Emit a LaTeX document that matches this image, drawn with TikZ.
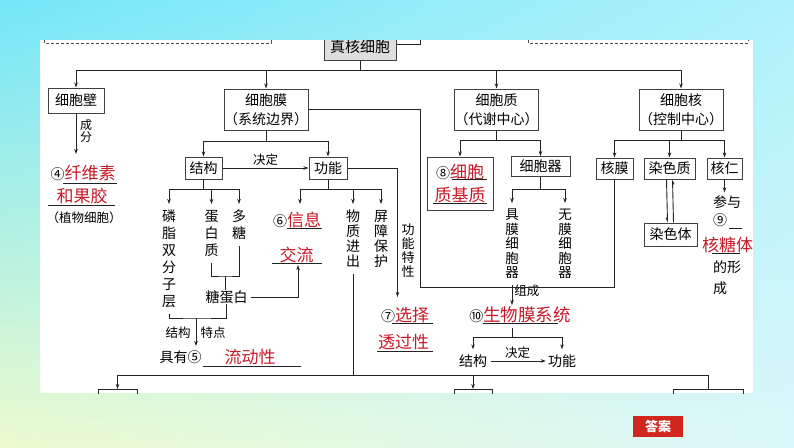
\documentclass[tikz,border=0pt]{standalone}
\usepackage{fontspec}
\setmainfont{Noto Sans CJK SC}
\usetikzlibrary{arrows.meta,calc,shadings}
\definecolor{ansred}{RGB}{200,25,40}
\definecolor{lncol}{RGB}{35,35,35}
\definecolor{bgA}{RGB}{115,230,248}
\definecolor{bgB}{RGB}{175,242,250}
\definecolor{bgC}{RGB}{236,250,205}
\definecolor{bgD}{RGB}{218,247,250}
\definecolor{btnred}{RGB}{208,38,30}
\newcommand{\ans}[1]{{\fontsize{17}{17}\selectfont\color{ansred}#1}}
\begin{document}
\begin{tikzpicture}[x=1pt,y=-1pt,
  ln/.style={draw=lncol,line width=0.9pt},
  arr/.style={ln,-{Stealth[length=5pt,width=3.5pt]}},
  harp/.style={ln,-{Straight Barb[harpoon,swap,length=3pt,width=3pt]}},
  box/.style={draw=black!75,line width=1pt,fill=white,inner sep=0pt,align=center,font=\fontsize{14}{19}\selectfont},
  txt/.style={inner sep=0pt,font=\fontsize{14}{17}\selectfont},
  sm/.style={inner sep=0pt,font=\fontsize{12.5}{13}\selectfont},
  vt/.style={inner xsep=0pt,inner ysep=6pt,align=center,anchor=north,font=\fontsize{14}{17}\selectfont},
  ul/.style={draw=lncol,line width=0.8pt},
  dsh/.style={draw=black!70,line width=0.8pt,dash pattern=on 3pt off 2pt},
]
\useasboundingbox (0,0) rectangle (794,447);
\shade[upper left=bgA,upper right=bgB,lower left=bgC,lower right=bgD] (0,0) rectangle (794,447);
\fill[white] (40,40) rectangle (753,393);

\begin{scope}
  \clip (40,40) rectangle (753,393);
  \draw[dsh] (44,10) rectangle (271,43);
  \draw[dsh] (528,10) rectangle (748,43);
  \node[box,fill=black!13,minimum width=72,minimum height=26,font=\fontsize{15}{15}\selectfont] (zh) at (360,47) {真核细胞};
  \coordinate (zr) at (420,36);
  \draw[ln] ($(zh.east)+(0,-3)$) -| (zr);
  \node[draw=lncol,line width=0.9pt,minimum width=39,minimum height=20,anchor=north,inner sep=0pt] (bl) at (117.5,389) {};
  \node[draw=lncol,line width=0.9pt,minimum width=38,minimum height=20,anchor=north,inner sep=0pt] (bm) at (473,389) {};
  \node[draw=lncol,line width=0.9pt,minimum width=70,minimum height=20,anchor=north,inner sep=0pt] (br) at (708,389) {};
\end{scope}

% level 1
\coordinate (bus1) at (360,70);
\draw[ln] (zh.south) -- (bus1);
\node[box,minimum width=56,minimum height=25] (bi) at (76,100.5) {细胞壁};
\node[box,minimum width=80,minimum height=41] (mo) at (266,109.5) {细胞膜\\（系统边界）};
\node[box,minimum width=81,minimum height=41] (zhi) at (496.5,109.5) {细胞质\\（代谢中心）};
\node[box,minimum width=81,minimum height=41] (he) at (681,109.5) {细胞核\\（控制中心）};
\foreach \n in {bi,mo,zhi,he} \draw[arr] (bus1) -| (\n.north);

% cell wall
\coordinate (cwEnd) at (76,154);
\draw[arr] (bi.south) -- (cwEnd);
\node[inner sep=0pt,align=center,font=\fontsize{12}{11.5}\selectfont] (cf) at (86,131) {成\\分};
\node[txt] (n4a) at (83,173) {④\ans{纤维素}};
\draw[ul] (63,183) -- (117,183);
\node[txt] (n4b) at (82,196) {\ans{和果胶}};
\draw[ul] (48,205) -- (115,205);
\node[inner sep=0pt,font=\fontsize{12.5}{13}\selectfont] (zw) at (84,218) {（植物细胞）};

% membrane
\coordinate (bus2) at (266,141);
\draw[ln] (mo.south) -- (bus2);
\node[box,minimum width=37,minimum height=22] (jg) at (203.5,168) {结构};
\node[box,minimum width=38,minimum height=22] (gn) at (328,168) {功能};
\draw[arr] (bus2) -| (jg.north);
\draw[arr] (bus2) -| (gn.north);
\draw[arr] (jg.east) -- node[above,sm,inner sep=2pt] (jd1) {决定} (gn.west);

\coordinate (bus3) at (203.5,189);
\draw[ln] (jg.south) -- (bus3);
\node[vt] (lin) at (169,204) {磷\\脂\\双\\分\\子\\层};
\node[vt] (dan) at (211.5,204) {蛋\\白\\质};
\node[vt] (duo) at (239,204) {多\\糖};
\foreach \n in {lin,dan,duo} \draw[arr] (bus3) -| (\n.north);
\node[txt] (tdb) at (226.5,297) {糖蛋白};
\coordinate (cj1) at (225.5,276);
\draw[ln] (dan.south) |- (cj1) -| (duo.south);
\draw[ln] (cj1) -- (cj1 |- tdb.north);
\coordinate (xlu) at (298,265);
\draw[arr] ([xshift=3pt]tdb.east) -| (xlu);
\coordinate (cj2) at (196,318);
\draw[ln] (lin.south) |- (cj2) -| (tdb.south);
\coordinate (jyT) at (196,346);
\draw[arr] (cj2) -- (jyT);
\node[sm] (ljg) at (178,333) {结构};
\node[sm] (ltd) at (213,333) {特点};
\node[txt] (jy) at (180.5,357) {具有⑤};
\draw[ul] (203,366) -- (301,366);
\node[txt] (ldx) at (250,357) {\ans{流动性}};

\coordinate (bus4) at (328,189);
\draw[ln] (gn.south) -- (bus4);
\coordinate (xiT) at (300,204);
\draw[arr] (bus4) -| (xiT);
\node[txt] (xi) at (297,220) {⑥\ans{信息}};
\draw[ul] (287,228) -- (322,228);
\node[txt] (xl) at (296.5,255) {\ans{交流}};
\draw[ul] (272,263) -- (322,263);
\node[vt,font=\fontsize{14}{15}\selectfont] (wz) at (353,204) {物\\质\\进\\出};
\node[vt,font=\fontsize{14}{15}\selectfont] (pz) at (381,204) {屏\\障\\保\\护};
\draw[arr] (bus4) -| (wz.north);
\draw[arr] (bus4) -| (pz.north);

\coordinate (gnR) at (397.5,297);
\draw[arr] (gn.east) -| (gnR);
\node[vt,font=\fontsize{13}{14}\selectfont] (gntx) at (408,218) {功\\能\\特\\性};
\node[txt] (xz) at (405,315) {⑦\ans{选择}};
\draw[ul] (392,323) -- (433,323);
\node[txt] (tg) at (403.5,342) {\ans{透过性}};
\draw[ul] (377,351) -- (433,351);

\coordinate (cjA) at (420,287);
\draw[ln] (mo.east) -| (cjA);

% cytoplasm
\coordinate (bus6) at (496.5,140);
\draw[ln] (zhi.south) -- (bus6);
\node[box,minimum width=66,minimum height=53,font=\fontsize{14}{23}\selectfont] (jz) at (460,183.5) {⑧\ans{细胞}\\\ans{质基质}};
\draw[ul] (452,179.5) -- (487,179.5);
\draw[ul] (433,203) -- (487,203);
\node[box,minimum width=59,minimum height=20] (qg) at (540.5,166.5) {细胞器};
\draw[arr] (bus6) -| (jz.north);
\draw[arr] (bus6) -| (qg.north);
\coordinate (bus7) at (540.5,189);
\draw[ln] (qg.south) -- (bus7);
\node[vt,inner ysep=6pt,font=\fontsize{13.5}{14.5}\selectfont] (jm) at (512,203) {具\\膜\\细\\胞\\器};
\node[vt,inner ysep=6pt,font=\fontsize{13.5}{14.5}\selectfont] (wm) at (565,203) {无\\膜\\细\\胞\\器};
\draw[arr] (bus7) -| (jm.north);
\draw[arr] (bus7) -| (wm.north);

\node[txt] (swm) at (520,315) {⑩{\fontsize{17.5}{17.5}\selectfont\color{ansred}生物膜系统}};
\draw[ul] (483,323) -- (558,323);
\draw[arr] (jm.south) -- (jm.south |- 0,305) node[midway,right,sm,inner sep=2pt,yshift=4pt] (zc) {组成};

\coordinate (bus8) at (512,337);
\draw[ln] (512,328) -- (bus8);
\node[txt] (jg2) at (473,361) {结构};
\node[txt] (gn2) at (562,361) {功能};
\draw[arr,shorten >=5pt] (bus8) -| (jg2.north);
\draw[arr,shorten >=5pt] (bus8) -| (gn2.north);
\draw[arr,shorten <=4pt,shorten >=2pt] (jg2.east) -- node[above,sm,inner sep=2pt] (jd2) {决定} (gn2.west);

% nucleus
\coordinate (bus9) at (681,140);
\draw[ln] (he.south) -- (bus9);
\node[box,minimum width=37,minimum height=21] (hm) at (614.5,168.5) {核膜};
\node[box,minimum width=51,minimum height=21] (rs) at (669.5,168.5) {染色质};
\node[box,minimum width=35,minimum height=21] (hr) at (724.5,168.5) {核仁};
\foreach \n in {hm,rs,hr} \draw[arr] (bus9) -| (\n.north);
\draw[ln] (cjA) -| (hm.south);
\node[box,minimum width=53,minimum height=23] (rst) at (670.5,234.5) {染色体};
\draw[harp] ([xshift=-3pt]rs.south) -- ([xshift=-3pt]rst.north);
\draw[harp] ([xshift=3pt]rst.north) -- ([xshift=3pt]rs.south);
\node[txt] (cy) at (727,202) {参与};
\draw[arr,shorten >=3pt] (hr.south) -- (hr.south |- cy.north);
\node[txt] (n9) at (720,220) {⑨};
\draw[ul] (729,228) -- (742,228);
\node[txt] (htt) at (727.5,245) {\ans{核糖体}};
\draw[ul] (712,253) -- (740,253);
\node[txt] (dx) at (727,267) {的形};
\node[txt] (chg) at (720,288) {成};

% bottom
\coordinate (bus5) at (353,375.5);
\draw[ln] (wz.south) -- (bus5);
\draw[arr] (bus5) -| (bl.north);
\draw[arr] (bus5) -| (bm.north);
\draw[ln] (bus5) -| (br.north);

\node[fill=btnred,text=white,minimum width=50,minimum height=21,inner sep=0pt,font=\fontsize{13}{13}\selectfont\bfseries] (ans) at (658,426.5) {答案};
\end{tikzpicture}
\end{document}
